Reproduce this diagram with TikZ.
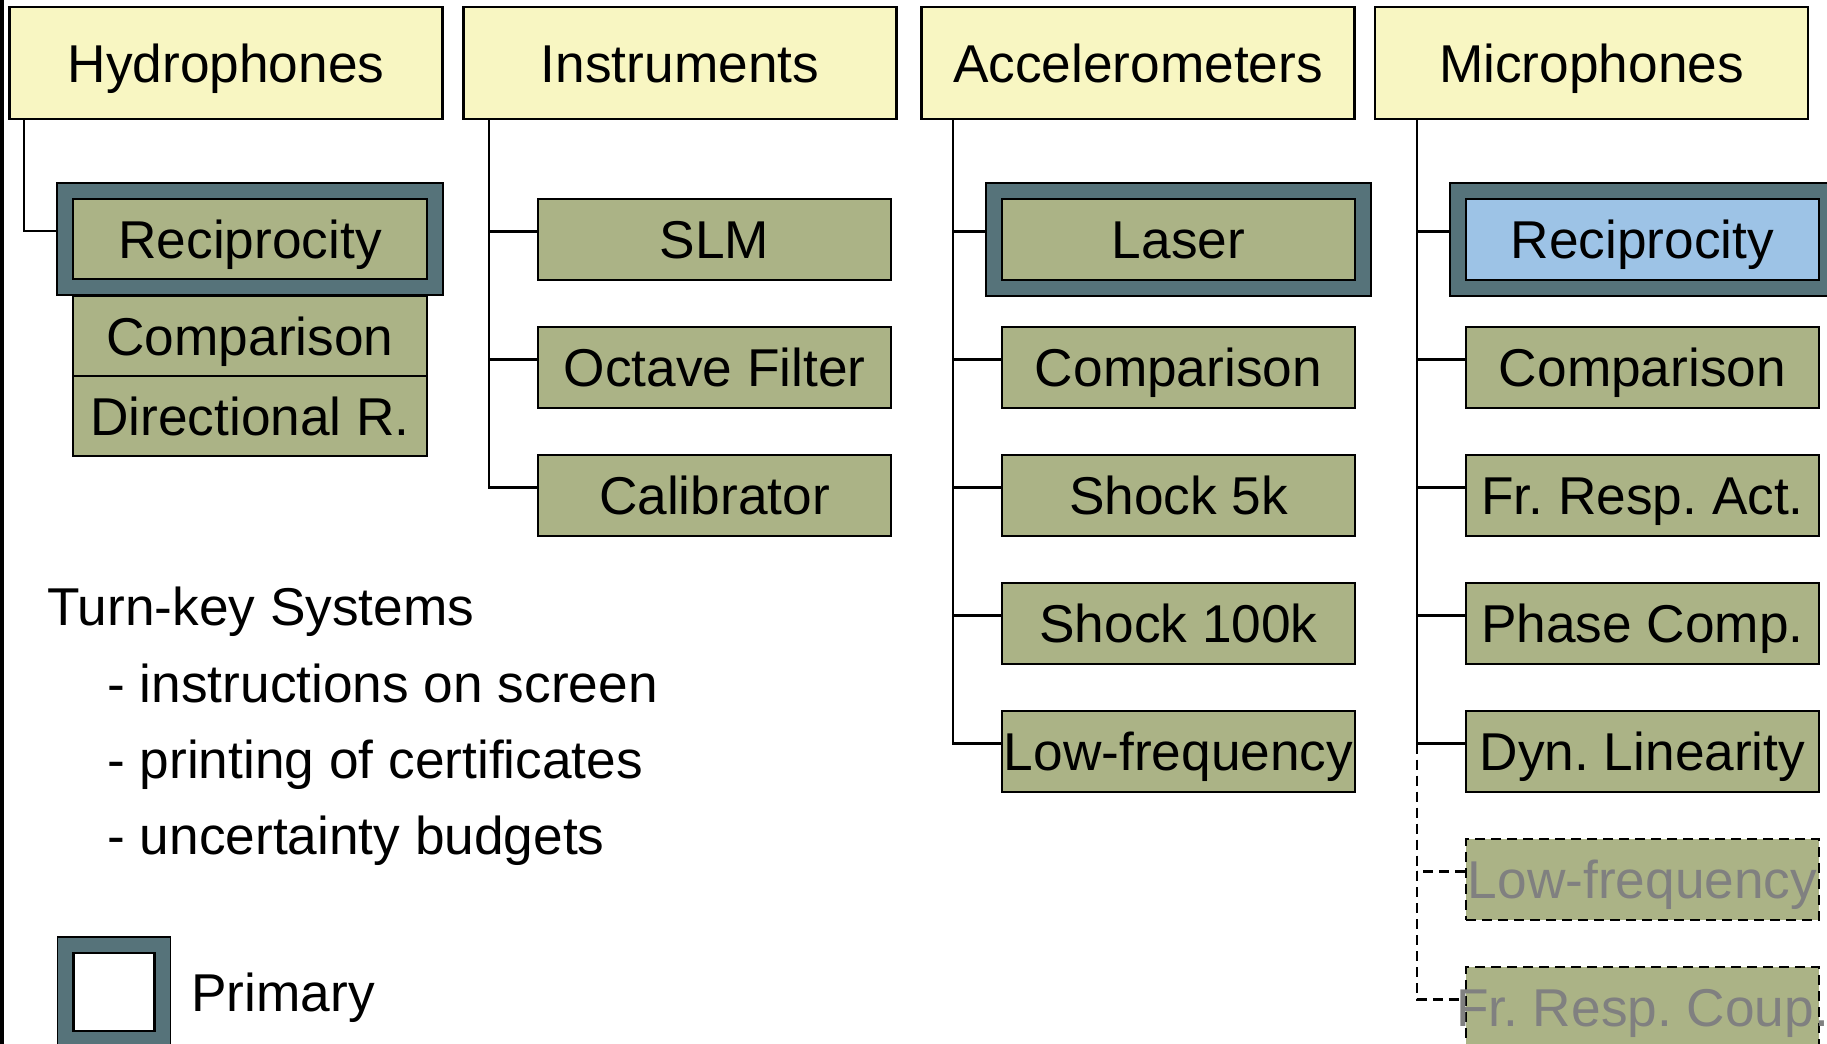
\documentclass[tikz,border=0pt]{standalone}
\usepackage{fontspec}
\setmainfont{Liberation Sans}
\usepackage{xcolor}
\usetikzlibrary{positioning, calc, backgrounds, fit}
\definecolor{hdrfill}{HTML}{F8F6C2}
\definecolor{olivefill}{HTML}{ABB386}
\definecolor{primslate}{HTML}{56737A}
\definecolor{mikeblue}{HTML}{9DC3E6}
\definecolor{plangray}{HTML}{808080}
\newcommand{\slidefont}{\fontsize{30.3pt}{35pt}\selectfont\frenchspacing}

\begin{document}
\begin{tikzpicture}[
    header/.style={rectangle, draw=black, line width=1.3pt, fill=hdrfill, minimum width=8.66cm, minimum height=2.24cm, inner sep=0pt, font=\slidefont, text height=21.7pt, text depth=0pt},
    method/.style={rectangle, draw=black, line width=1.3pt, fill=#1, minimum width=7.06cm, minimum height=1.62cm, inner sep=0pt, font=\slidefont, text height=21.7pt, text depth=0pt},
    method/.default=olivefill,
    planned/.style={method, line width=1.5pt, dash pattern=on 0.2cm off 0.12cm, text=plangray},
    primary/.style={rectangle, draw=black, line width=0.9pt, fill=primslate, inner sep=0.3cm},
    link/.style={draw=black, line width=1.5pt},
    plannedlink/.style={link, dash pattern=on 0.2cm off 0.12cm},
    txt/.style={font=\slidefont, inner sep=0pt, text height=21.7pt, text depth=0pt}
]
\useasboundingbox (0,0) rectangle (36.54,-20.88);
\fill[black] (0,0) rectangle (0.07,-20.88);

% Headers
\node[header] (hydro) at (4.52,-1.26) {Hydrophones};
\node[header] (instr) at (13.60,-1.26) {Instruments};
\node[header] (accel) at (22.76,-1.26) {Accelerometers};
\node[header] (micro) at (31.83,-1.26) {Microphones};

% Hydrophones
\node[method, minimum width=7.08cm, minimum height=1.6cm] (hrecip) at (5.00,-4.78) {Reciprocity};
\node[method, minimum width=7.08cm, minimum height=1.6cm] (hcomp) at (5.00,-6.72) {Comparison};
\node[method, minimum width=7.08cm, minimum height=1.6cm] (hdir) at (5.00,-8.32) {Directional R.};

% Instruments
\node[method] (slm) at (14.29,-4.79) {SLM};
\node[method] (octave) at (14.29,-7.35) {Octave Filter};
\node[method] (calib) at (14.29,-9.91) {Calibrator};

% Accelerometers
\node[method] (laser) at (23.57,-4.79) {Laser};
\node[method] (acomp) at (23.57,-7.35) {Comparison};
\node[method] (shocka) at (23.57,-9.91) {Shock 5k};
\node[method] (shockb) at (23.57,-12.47) {Shock 100k};
\node[method] (alow) at (23.57,-15.03) {Low-frequency};

% Microphones
\node[method=mikeblue] (mrecip) at (32.85,-4.79) {Reciprocity};
\node[method] (mcomp) at (32.85,-7.35) {Comparison};
\node[method] (mfract) at (32.85,-9.91) {Fr. Resp. Act.};
\node[method] (mphase) at (32.85,-12.47) {Phase Comp.};
\node[method] (mdyn) at (32.85,-15.03) {Dyn. Linearity};
\node[planned] (mlow) at (32.85,-17.59) {\makebox[7.06cm]{Low-frequency}};
\node[planned] (mcoup) at (32.85,-20.15) {\makebox[7.06cm]{Fr. Resp. Coup.}};

% Legend
\node[method=white, minimum width=1.62cm, minimum height=1.56cm] (legbox) at (2.28,-19.84) {};
\node[txt, anchor=west] (legtxt) at (3.82,-19.84) {Primary};

% Primary frames
\begin{scope}[on background layer]
\node[primary, fit=(hrecip)] (hrecipf) {};
\node[primary, fit=(laser)] (laserf) {};
\node[primary, fit=(mrecip)] (mrecipf) {};
\node[primary, fit=(legbox)] (legf) {};
\end{scope}

% Turn-key systems
\node[txt, anchor=west] (turnkey) at (0.94,-12.12) {Turn-key Systems};
\node[txt, anchor=west] (tkscreen) at (2.14,-13.66) {- instructions on screen};
\node[txt, anchor=west] (tkcert) at (2.14,-15.18) {- printing of certificates};
\node[txt, anchor=west] (tkbudget) at (2.14,-16.70) {- uncertainty budgets};

% Connectors
\coordinate (hbus) at ($(hrecip.west)+(-0.96,0)$);
\draw[link] (hydro.south -| hbus) |- ([yshift=1.6mm]hrecipf.west);

\coordinate (ibus) at ($(slm.west)+(-0.96,0)$);
\draw[link] (instr.south -| ibus) |- ([yshift=1.6mm]calib.west);
\foreach \c in {slm, octave}
  \draw[link] ([yshift=1.6mm]\c.west) -- ++(-0.96,0);

\coordinate (abus) at ($(laser.west)+(-0.96,0)$);
\draw[link] (accel.south -| abus) |- ([yshift=1.6mm]alow.west);
\draw[link] ([yshift=1.6mm]laserf.west) -- ++(-0.64,0);
\foreach \c in {acomp, shocka, shockb}
  \draw[link] ([yshift=1.6mm]\c.west) -- ++(-0.96,0);

\coordinate (mbus) at ($(mrecip.west)+(-0.96,0)$);
\draw[link] (micro.south -| mbus) |- ([yshift=1.6mm]mdyn.west);
\draw[link] ([yshift=1.6mm]mrecipf.west) -- ++(-0.64,0);
\foreach \c in {mcomp, mfract, mphase}
  \draw[link] ([yshift=1.6mm]\c.west) -- ++(-0.96,0);
\draw[plannedlink] ([yshift=1.6mm]mdyn.west) ++(-0.96,0) |- ([yshift=1.6mm]mcoup.west);
\draw[plannedlink] ([yshift=1.6mm]mlow.west) -- ++(-0.96,0);

\end{tikzpicture}
\end{document}
